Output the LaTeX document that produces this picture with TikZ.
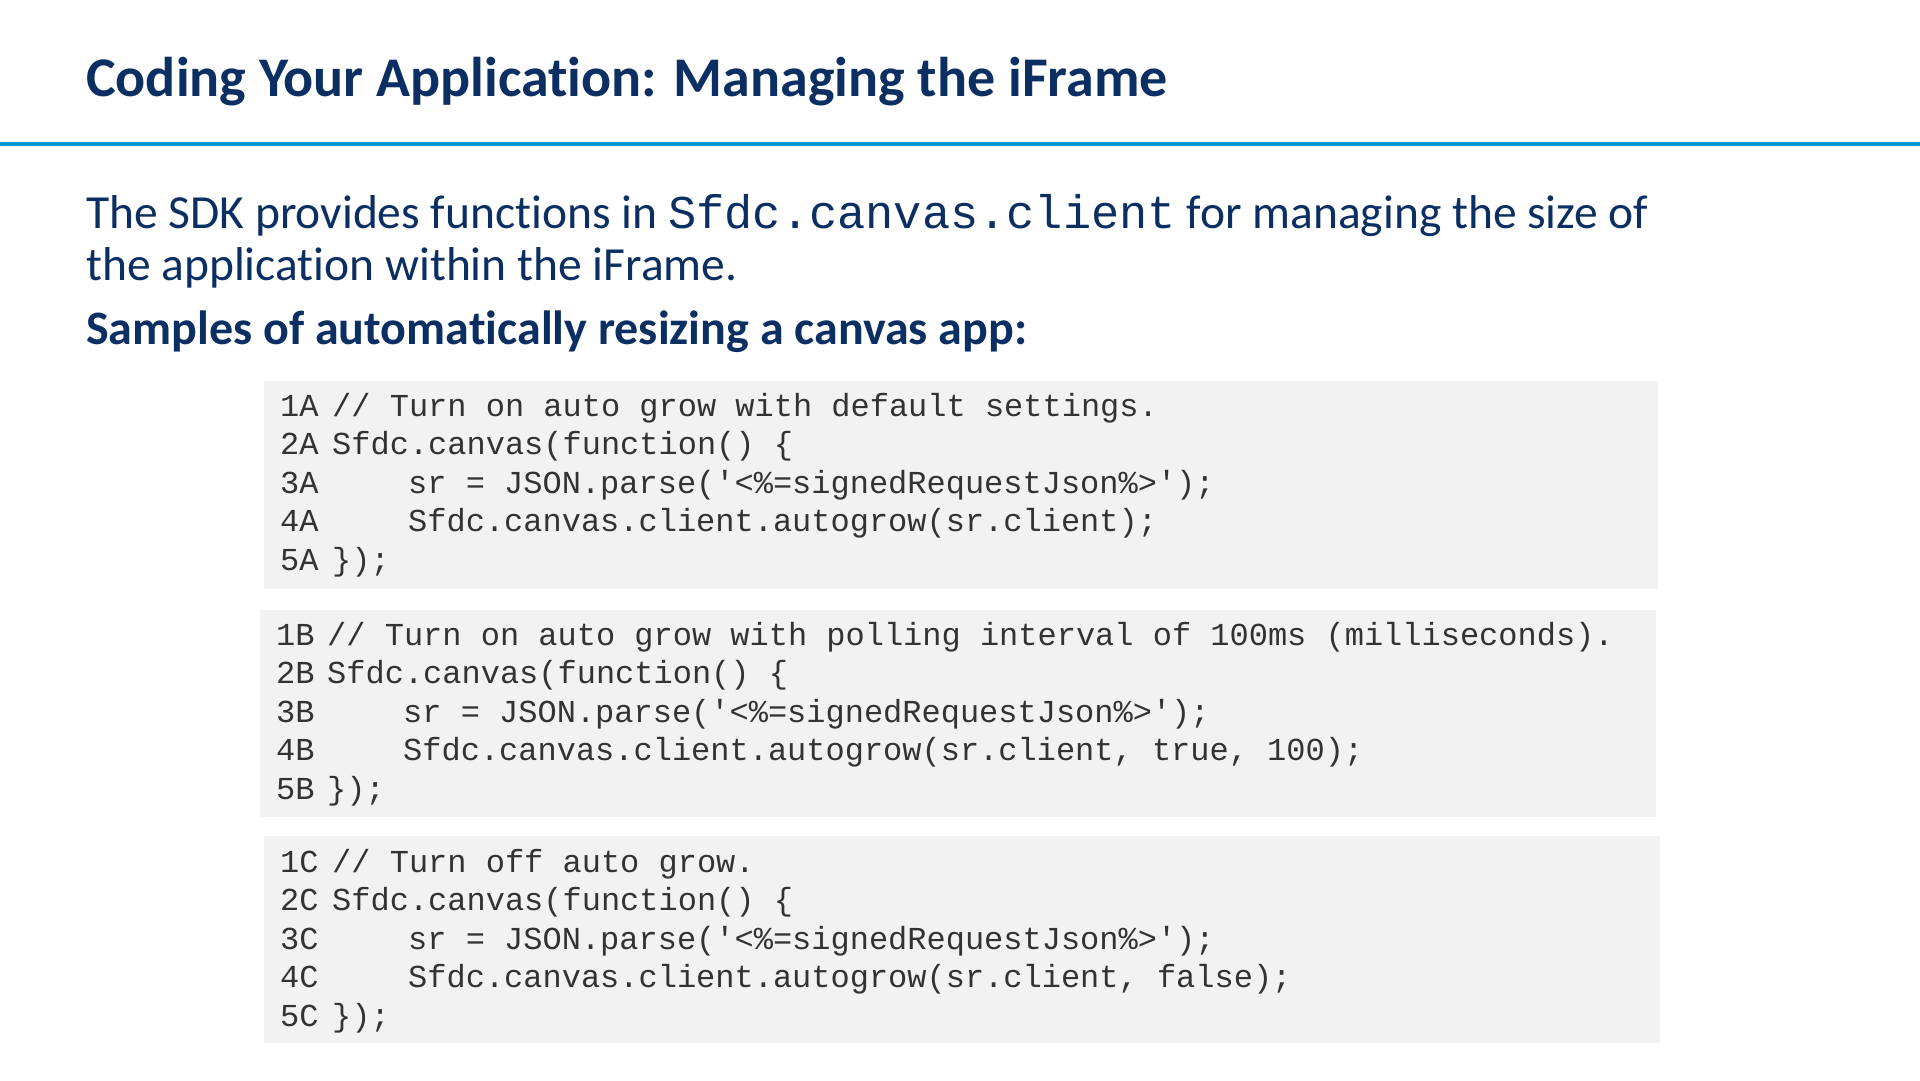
\documentclass[tikz,border=0pt]{standalone}
\usepackage{fontspec}
\setmainfont[RawFeature={-liga;-clig;-dlig}]{Carlito}
\setmonofont{Liberation Mono}
\definecolor{navy}{HTML}{0B2F63}
\definecolor{rule}{HTML}{0096D6}
\definecolor{codebg}{HTML}{F2F2F2}
\begin{document}
\begin{tikzpicture}[x=1pt,y=-1pt,
  codebox/.style={fill=codebg,draw=none},
  ln/.style={anchor=base west,inner sep=0,font=\fontsize{32}{32}\ttfamily,text=black!80},
  ttl/.style={anchor=base west,inner sep=0,text=navy}]
\useasboundingbox (0,0) rectangle (1920,1080);
\fill[white] (0,0) rectangle (1920,1080);
\node[ttl,font=\fontsize{56}{56}\selectfont\bfseries] (title) at (86,96) {Coding Your Application: Managing the iFrame};
\draw[rule,line width=3.5pt] (0,144) -- (1920,144);
\node[ttl,font=\fontsize{47.5}{47.5}\selectfont] (p1) at (86,228) {The SDK provides functions in {\fontsize{47}{47}\ttfamily Sfdc.canvas.client} for managing the size of};
\node[ttl,font=\fontsize{47.5}{47.5}\selectfont] (p2) at (86,280) {the application within the iFrame.};
\node[ttl,font=\fontsize{48}{48}\selectfont\bfseries] (p3) at (86,344) {Samples of automatically resizing a canvas app:};
\fill[codebox] (264,381) rectangle (1658,589);
\fill[codebox] (260,610) rectangle (1656,817);
\fill[codebox] (264,836) rectangle (1660,1043);
\foreach \l/\x/\t [count=\i] in {1A/332/{// Turn on auto grow with default settings.},2A/332/{Sfdc.canvas(function() \{},3A/408/{sr = JSON.parse('<\%=signedRequestJson\%>');},4A/408/{Sfdc.canvas.client.autogrow(sr.client);},5A/332/{\});}}{
  \node[ln] (a\i) at (280,{416+(\i-1)*38.6}) {\l};
  \node[ln] (at\i) at (\x,{416+(\i-1)*38.6}) {\t};
}
\foreach \l/\x/\t [count=\i] in {1B/327/{// Turn on auto grow with polling interval of 100ms (milliseconds).},2B/327/{Sfdc.canvas(function() \{},3B/403/{sr = JSON.parse('<\%=signedRequestJson\%>');},4B/403/{Sfdc.canvas.client.autogrow(sr.client, true, 100);},5B/327/{\});}}{
  \node[ln] (b\i) at (276,{645+(\i-1)*38.6}) {\l};
  \node[ln] (bt\i) at (\x,{645+(\i-1)*38.6}) {\t};
}
\foreach \l/\x/\t [count=\i] in {1C/332/{// Turn off auto grow.},2C/332/{Sfdc.canvas(function() \{},3C/408/{sr = JSON.parse('<\%=signedRequestJson\%>');},4C/408/{Sfdc.canvas.client.autogrow(sr.client, false);},5C/332/{\});}}{
  \node[ln] (c\i) at (280,{872+(\i-1)*38.6}) {\l};
  \node[ln] (ct\i) at (\x,{872+(\i-1)*38.6}) {\t};
}
\end{tikzpicture}
\end{document}
